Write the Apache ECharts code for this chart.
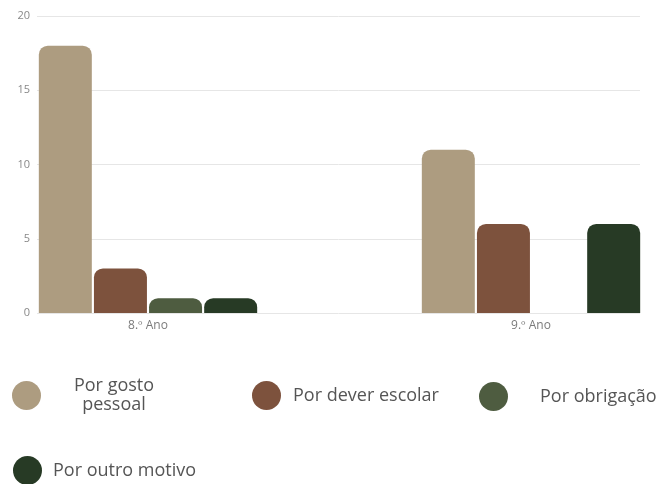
<!DOCTYPE html>
<html><head><meta charset="utf-8">
<script src="https://cdn.jsdelivr.net/npm/echarts@6/dist/echarts.min.js"></script>
<style>html,body{margin:0;padding:0;background:#fff}#c{width:662px;height:484px}</style>
</head><body><div id="c"></div>
<script>
var categories = ['8.º Ano', '9.º Ano'];
var seriesNames = ['Por gosto pessoal', 'Por dever escolar', 'Por obrigação', 'Por outro motivo'];
var gostoPessoal = [18, 11];
var deverEscolar = [3, 6];
var obrigacao = [1, 0];
var outroMotivo = [1, 6];
var yTicks = [0, 5, 10, 15, 20];
var colors = ['#ad9c80', '#7d523d', '#4e5c40', '#273a25'];
var values = [gostoPessoal, deverEscolar, obrigacao, outroMotivo];

var chart = echarts.init(document.getElementById('c'));
var font = 'Open Sans';
var series = seriesNames.map(function (n, i) {
  return {
    name: n, type: 'bar', xAxisIndex: 1, yAxisIndex: 1,
    data: values[i], barWidth: 53, barGap: '4%',
    itemStyle: { color: colors[i], borderRadius: [9, 9, 0, 0] },
    emphasis: { disabled: true }
  };
});
function legendAt(i, left, top, text, rich) {
  return {
    data: [{ name: seriesNames[i], icon: 'circle' }],
    left: left, top: top, padding: 0,
    itemWidth: 29, itemHeight: 29,
    selectedMode: false,
    formatter: function () { return text; },
    textStyle: { color: '#555', fontSize: 18, fontFamily: font, rich: rich }
  };
}
var base = { fontSize: 18, color: '#555', fontFamily: font };
chart.setOption({
  animation: false,
  grid: [
    { left: 37, right: 22, top: 16, bottom: 171, outerBoundsMode: 'none' },
    { left: -43.5, width: 766, top: 16, bottom: 171, outerBoundsMode: 'none' }
  ],
  xAxis: [
    { gridIndex: 0, type: 'category', data: [''], show: false },
    { gridIndex: 1, type: 'category', data: categories,
      axisLine: { show: false }, axisTick: { show: false },
      axisLabel: { color: '#7a7a7a', fontSize: 12, fontFamily: font, margin: 7 } }
  ],
  yAxis: [
    { gridIndex: 0, type: 'value', min: yTicks[0], max: yTicks[yTicks.length - 1], interval: 5,
      axisLine: { show: false }, axisTick: { show: false },
      axisLabel: { color: '#888', fontSize: 11, fontFamily: font, margin: 7 },
      splitLine: { lineStyle: { color: '#e6e6e6', width: 1 } } },
    { gridIndex: 1, type: 'value', min: 0, max: 20, show: false }
  ],
  legend: [
    legendAt(0, 12, 377, '{a|Por gosto}\n{a|pessoal}',
      { a: Object.assign({ width: 136, align: 'center', lineHeight: 19 }, base) }),
    legendAt(1, 252, 381, '{p|Por dever escolar}',
      { p: Object.assign({ padding: [0, 0, 0, 7] }, base) }),
    legendAt(2, 479, 382, '{p|Por obrigação}',
      { p: Object.assign({ padding: [0, 0, 0, 27] }, base) }),
    legendAt(3, 13, 456, '{p|Por outro motivo}',
      { p: Object.assign({ padding: [0, 0, 0, 6] }, base) })
  ],
  series: series
});
</script></body></html>
